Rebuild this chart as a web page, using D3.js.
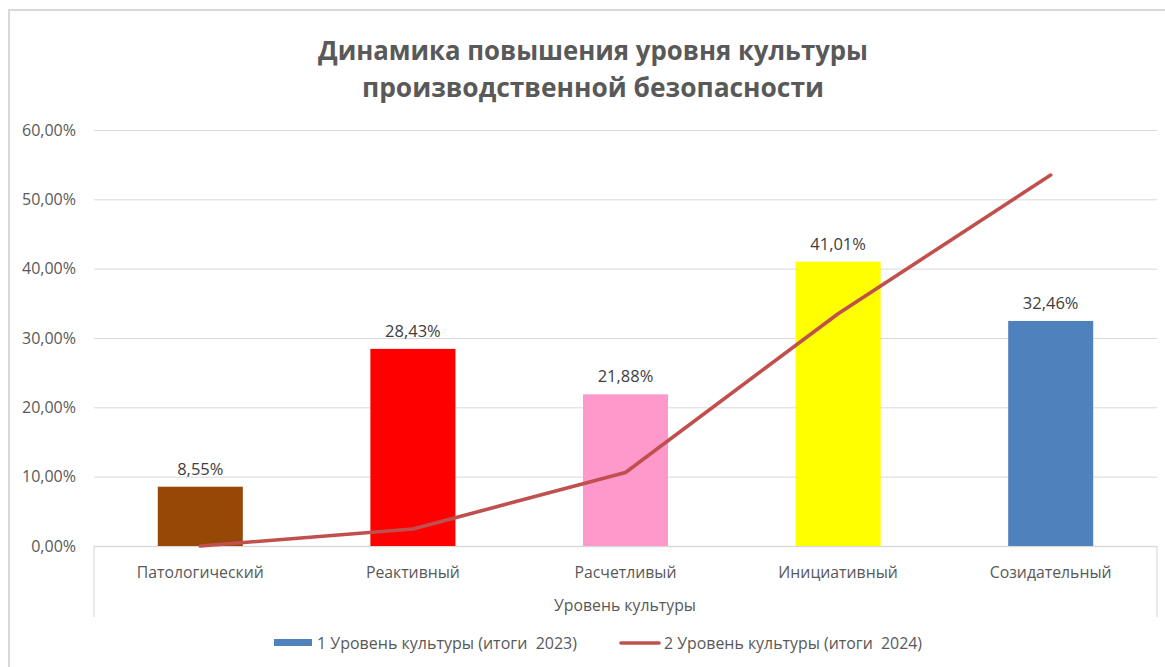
<!DOCTYPE html>
<html><head><meta charset="utf-8">
<script src="https://cdn.jsdelivr.net/npm/d3@7"></script>
<style>body{margin:0;background:#fff;} svg{display:block;font-family:"Open Sans","Noto Sans",sans-serif;} text{white-space:pre;}</style>
</head><body>
<script>
const categories = ["Патологический","Реактивный","Расчетливый","Инициативный","Созидательный"];
const values2023 = [8.55, 28.43, 21.88, 41.01, 32.46];
const values2024 = [0, 2.45, 10.6, 33.5, 53.5];
const barColors = ["#974806","#FF0000","#FF99CC","#FFFF00","#4F81BD"];
const yTicks = [0,10,20,30,40,50,60];
const titleLines = ["Динамика повышения уровня культуры","производственной безопасности"];
const xTitle = "Уровень культуры";
const legendLabels = ["1 Уровень культуры (итоги  2023)","2 Уровень культуры (итоги  2024)"];

const W=1165,H=667;
const svg=d3.select("body").append("svg").attr("width",W).attr("height",H);
const fmt = v => v.toFixed(2).replace(".",",")+"%";

// chart frame
svg.append("line").attr("x1",8).attr("x2",W).attr("y1",10).attr("y2",10).attr("stroke","#d9d9d9").attr("stroke-width",2);
svg.append("line").attr("x1",9).attr("x2",9).attr("y1",10).attr("y2",H).attr("stroke","#d9d9d9").attr("stroke-width",2);

const x=d3.scaleBand().domain(categories).range([94,1157]).paddingInner(0.6).paddingOuter(0.3);
const xb=d3.scaleBand().domain(categories).range([94,1157]);
const y=d3.scaleLinear().domain([0,60]).range([546,130]);

// title
const tW=[550,462];
titleLines.forEach((t,i)=>{
  svg.append("text").attr("x",593).attr("y",60+i*37).attr("text-anchor","middle")
   .attr("font-size",27).attr("font-weight","bold").attr("fill","#595959")
   .attr("textLength",tW[i]).attr("lengthAdjust","spacingAndGlyphs").text(t);
});

// grid
const yAxis=d3.axisLeft(y).tickValues(yTicks).tickSize(-(1157-94)).tickFormat(d=>fmt(d)).tickPadding(18);
const ga=svg.append("g").attr("transform","translate(94,0)").call(yAxis);
ga.select(".domain").remove();
ga.selectAll(".tick line").attr("stroke","#d9d9d9").attr("stroke-width",1);
ga.selectAll(".tick text").attr("fill","#595959").attr("font-size",16).attr("font-family","'Open Sans',sans-serif");

// category box
svg.append("path").attr("d",`M94,546V617M1157,546V617`).attr("stroke","#e3e3e3").attr("stroke-width",1.5);
svg.append("line").attr("x1",94).attr("x2",1157).attr("y1",546.5).attr("y2",546.5).attr("stroke","#d9d9d9").attr("stroke-width",1.5);

// bars
svg.append("g").selectAll("rect").data(categories).join("rect")
 .attr("x",d=>x(d)).attr("width",x.bandwidth())
 .attr("y",(d,i)=>y(values2023[i])).attr("height",(d,i)=>y(0)-y(values2023[i]))
 .attr("fill",(d,i)=>barColors[i]);

// data labels
svg.append("g").selectAll("text").data(categories).join("text")
 .attr("x",d=>xb(d)+xb.bandwidth()/2).attr("y",(d,i)=>y(values2023[i])-12)
 .attr("text-anchor","middle").attr("font-size",16.5).attr("fill","#404040")
 .text((d,i)=>fmt(values2023[i]));

// line
const line=d3.line().x(d=>xb(d[0])+xb.bandwidth()/2).y(d=>y(d[1]));
svg.append("path").datum(categories.map((c,i)=>[c,values2024[i]])).attr("d",line)
 .attr("fill","none").attr("stroke","#C0504D").attr("stroke-width",3.6).attr("stroke-linecap","round").attr("stroke-linejoin","round");

// category labels
svg.append("g").selectAll("text").data(categories).join("text")
 .attr("x",d=>xb(d)+xb.bandwidth()/2).attr("y",578).attr("text-anchor","middle")
 .attr("font-size",15.8).attr("fill","#595959").text(d=>d);

svg.append("text").attr("x",625).attr("y",611).attr("text-anchor","middle")
 .attr("font-size",15.8).attr("fill","#595959").text(xTitle);

// legend
svg.append("rect").attr("x",274).attr("y",639).attr("width",38).attr("height",7).attr("fill","#4F81BD");
svg.append("text").attr("x",317).attr("y",649).attr("font-size",15.8).attr("fill","#595959")
 .attr("textLength",260).attr("lengthAdjust","spacingAndGlyphs").text(legendLabels[0]);
svg.append("line").attr("x1",621).attr("x2",659).attr("y1",643).attr("y2",643).attr("stroke","#C0504D").attr("stroke-width",3.6).attr("stroke-linecap","round");
svg.append("text").attr("x",664).attr("y",649).attr("font-size",15.8).attr("fill","#595959")
 .attr("textLength",258).attr("lengthAdjust","spacingAndGlyphs").text(legendLabels[1]);
</script>
</body></html>
